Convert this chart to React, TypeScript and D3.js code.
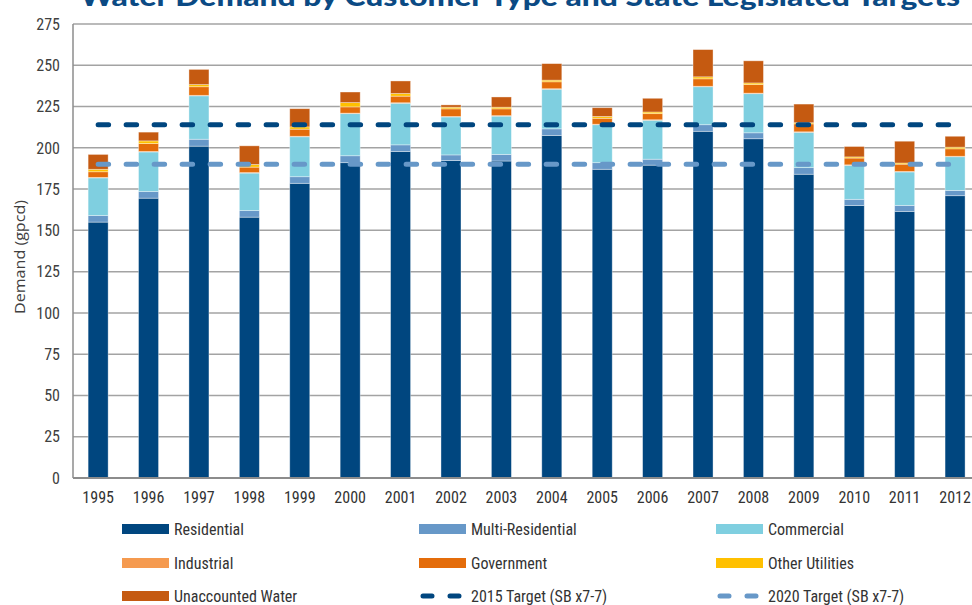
import React from 'react'
import * as d3 from 'd3'

const years = ['1995', '1996', '1997', '1998', '1999', '2000', '2001', '2002', '2003', '2004', '2005', '2006', '2007', '2008', '2009', '2010', '2011', '2012']
const residential = [155, 169.5, 201, 158, 178.5, 191, 197.8, 192.3, 192, 207.5, 187, 189.5, 210, 205.5, 184, 165, 161.5, 171]
const multiResidential = [4, 4, 4.2, 4, 4, 4.2, 4, 3.4, 4, 4, 4, 3.6, 4, 3.6, 4, 3.8, 3.6, 3.2]
const commercial = [22.8, 24, 26.3, 22.7, 24.2, 25.5, 25.2, 23, 23.2, 24, 23, 23.6, 23, 23.7, 21.4, 20.6, 20.3, 20.4]
const industrial = [0.3, 0.3, 0.3, 0.3, 0.3, 0.3, 0.3, 0.3, 0.3, 0.3, 0.3, 0.3, 0.3, 0.3, 0.3, 0.3, 0.3, 0.3]
const government = [3.4, 4.8, 5.2, 3.3, 4.3, 3.8, 4, 4.6, 4.1, 4.2, 3.6, 3.7, 4.5, 5.2, 4.8, 4.1, 4.4, 4.5]
const otherUtilities = [1.5, 1.6, 1.3, 1.6, 1.4, 2.6, 1.6, 1, 1, 1, 1.1, 1, 1.2, 1, 0.7, 0.7, 0.7, 1]
const unaccounted = [9, 5.3, 9.2, 11.3, 11, 6.4, 7.6, 1.4, 6.2, 10, 5.3, 8.3, 16.5, 13.4, 11.3, 6.3, 13.2, 6.6]
const target2015 = 214
const target2020 = 190
const yTicks = [0, 25, 50, 75, 100, 125, 150, 175, 200, 225, 250, 275]

const seriesNames = ['Residential', 'Multi-Residential', 'Commercial', 'Industrial', 'Government', 'Other Utilities', 'Unaccounted Water']
const seriesColors = ['#00467f', '#6798c8', '#7fcfe0', '#f59a4f', '#e46c0a', '#ffc000', '#c55a11']
const seriesValues = [residential, multiResidential, commercial, industrial, government, otherUtilities, unaccounted]

const W = 972
const H = 605
const font = "'Liberation Sans Narrow', 'Roboto Condensed', 'Arial Narrow', Roboto, sans-serif"

export default function App() {
  const rows = years.map((y, i) => {
    const r: Record<string, number | string> = { year: y }
    seriesNames.forEach((n, k) => (r[n] = seriesValues[k][i]))
    return r
  })
  const stacked = d3.stack<any>().keys(seriesNames)(rows)

  const x = d3.scaleBand().domain(years).range([73, 73 + 18 * 50.4]).paddingInner(0.603).paddingOuter(0.3)
  const y = d3.scaleLinear().domain([0, 275]).range([478, 24])
  const cx = (yr: string) => (x(yr) ?? 0) + x.bandwidth() / 2
  const xStart = cx(years[0])
  const xEnd = cx(years[years.length - 1])

  const legendCols = [122, 419, 716]
  const legendRows = [529, 563, 596]
  const legendItems = [
    ...seriesNames.map((n, k) => ({ name: n, color: seriesColors[k], dash: false })),
    { name: '2015 Target (SB x7-7)', color: '#00467f', dash: true },
    { name: '2020 Target (SB x7-7)', color: '#6798c8', dash: true },
  ]

  return (
    <svg width={W} height={H} style={{ position: 'absolute', left: 0, top: 0, background: '#fff' }} fontFamily={font}>
      <text x={80} y={6} textLength={880} lengthAdjust="spacingAndGlyphs" fontFamily="Lato, 'Open Sans', sans-serif"
        fontWeight={900} fontSize={26} fill="#0b4a84">
        Water Demand by Customer Type and State Legislated Targets
      </text>

      {yTicks.filter((t) => t > 0).map((t) => (
        <line key={t} x1={73} x2={W} y1={y(t)} y2={y(t)} stroke="#a3a3a3" strokeWidth={1.5} />
      ))}
      <line x1={73} x2={73} y1={y(275)} y2={y(0)} stroke="#8c8c8c" strokeWidth={1.5} />

      {yTicks.map((t) => (
        <text key={t} x={60} y={y(t)} dy="0.36em" textAnchor="end" fontSize={16} fill="#404040">{t}</text>
      ))}
      <text transform="translate(20,257) rotate(-90)" dy="0.36em" textAnchor="middle" fontSize={14}
        fontFamily="'Open Sans', 'Noto Sans', sans-serif" textLength={114} lengthAdjust="spacingAndGlyphs" fill="#404040">
        Demand (gpcd)
      </text>

      {stacked.map((s, k) => (
        <g key={s.key} fill={seriesColors[k]}>
          {s.map((d: any) => (
            <rect key={d.data.year} x={x(d.data.year)} width={x.bandwidth()} y={y(d[1])}
              height={Math.max(0, y(d[0]) - y(d[1]))} stroke="#ffffff" strokeOpacity={0.45} strokeWidth={0.8} />
          ))}
        </g>
      ))}

      <line x1={73} x2={W} y1={y(0)} y2={y(0)} stroke="#8c8c8c" strokeWidth={2} />

      <line x1={xStart} x2={xEnd} y1={y(target2015)} y2={y(target2015)} stroke="#00467f" strokeWidth={5}
        strokeDasharray="10.5 17.5" strokeLinecap="round" />
      <line x1={xStart} x2={xEnd} y1={y(target2020)} y2={y(target2020)} stroke="#6798c8" strokeWidth={5}
        strokeDasharray="10.5 17.5" strokeLinecap="round" />

      {years.map((yr) => (
        <text key={yr} x={cx(yr)} y={497} dy="0.36em" textAnchor="middle" fontSize={16} fill="#333">{yr}</text>
      ))}

      {legendItems.map((it, i) => {
        const lx = legendCols[i % 3]
        const ly = legendRows[Math.floor(i / 3)]
        return (
          <g key={it.name}>
            {it.dash ? (
              <line x1={lx + 4} x2={lx + 44} y1={ly} y2={ly} stroke={it.color} strokeWidth={5}
                strokeDasharray="9 18" strokeLinecap="round" />
            ) : (
              <rect x={lx} y={ly - 5} width={47} height={10} fill={it.color} />
            )}
            <text x={lx + 52} y={ly} dy="0.36em" fontSize={16} fill="#333">{it.name}</text>
          </g>
        )
      })}
    </svg>
  )
}
